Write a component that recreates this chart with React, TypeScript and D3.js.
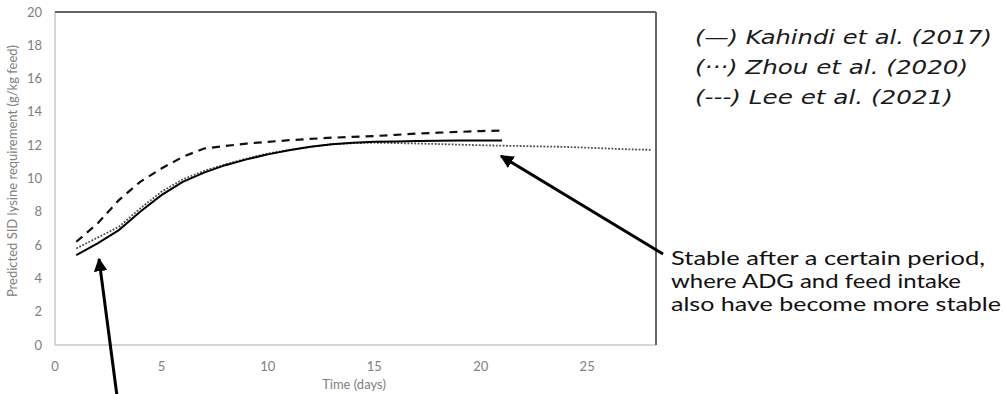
import { useEffect, useRef } from 'react';
import * as d3 from 'd3';

// days 1..21 / 1..28, values in g/kg feed
const kahindiDays = d3.range(1, 22);
const kahindiVals = [5.4, 6.1, 6.9, 8.0, 9.0, 9.8, 10.35, 10.8, 11.15, 11.45, 11.7, 11.9, 12.05, 12.15, 12.2, 12.22, 12.25, 12.27, 12.28, 12.28, 12.28];

const zhouDays = d3.range(1, 29);
const zhouVals = [5.8, 6.45, 7.1, 8.2, 9.2, 9.95, 10.45, 10.85, 11.2, 11.5, 11.72, 11.9, 12.05, 12.12, 12.15, 12.13, 12.1, 12.07, 12.03, 12.0, 11.97, 11.95, 11.92, 11.9, 11.85, 11.8, 11.75, 11.72];

const leeDays = d3.range(1, 22);
const leeVals = [6.2, 7.3, 8.7, 9.8, 10.6, 11.3, 11.8, 11.95, 12.1, 12.2, 12.3, 12.38, 12.45, 12.5, 12.55, 12.62, 12.7, 12.75, 12.8, 12.85, 12.88];

const xTicks = [0, 5, 10, 15, 20, 25];
const yTicks = [0, 2, 4, 6, 8, 10, 12, 14, 16, 18, 20];

const legendLabels = ['(\u2014) Kahindi et al. (2017)', '(\u00b7\u00b7\u00b7) Zhou et al. (2020)', '(---) Lee et al. (2021)'];
const legendWidths = [297, 273, 258];
const noteLines = ['Stable after a certain period,', 'where ADG and feed intake', 'also have become more stable'];
const noteWidths = [314, 290, 330];

const W = 1005;
const H = 394;

const App = () => {
  const ref = useRef<SVGSVGElement>(null);

  useEffect(() => {
    document.body.style.margin = '0';
    const svg = d3.select(ref.current);
    svg.selectAll('*').remove();

    const x = d3.scaleLinear().domain([0, 28]).range([55, 651]);
    const y = d3.scaleLinear().domain([0, 20]).range([345, 12]);

    const defs = svg.append('defs');
    defs
      .append('marker')
      .attr('id', 'head')
      .attr('viewBox', '0 0 10 10')
      .attr('refX', 9)
      .attr('refY', 5)
      .attr('markerWidth', 4.5)
      .attr('markerHeight', 4.5)
      .attr('markerUnits', 'strokeWidth')
      .attr('orient', 'auto')
      .append('path')
      .attr('d', 'M0,0 L10,5 L0,10 z')
      .attr('fill', '#000');

    // frame
    const fr = { l: 55, t: 12, r: 656, b: 345 };
    svg.append('line').attr('x1', fr.l).attr('x2', fr.l).attr('y1', fr.t).attr('y2', fr.b).attr('stroke', '#c8c8c8').attr('stroke-width', 1.5);
    svg.append('line').attr('x1', fr.l).attr('x2', fr.r).attr('y1', fr.b).attr('y2', fr.b).attr('stroke', '#c8c8c8').attr('stroke-width', 1.5);
    svg.append('line').attr('x1', fr.l).attr('x2', fr.r).attr('y1', fr.t).attr('y2', fr.t).attr('stroke', '#666').attr('stroke-width', 2);
    svg.append('line').attr('x1', fr.r).attr('x2', fr.r).attr('y1', fr.t).attr('y2', fr.b).attr('stroke', '#666').attr('stroke-width', 2);

    // ticks
    svg
      .append('g')
      .selectAll('text')
      .data(yTicks)
      .join('text')
      .attr('x', 42)
      .attr('y', (d) => y(d))
      .attr('dy', '0.35em')
      .attr('text-anchor', 'end')
      .attr('font-family', 'Lato, sans-serif')
      .attr('font-size', 13)
      .attr('fill', '#808080')
      .text((d) => d);

    svg
      .append('g')
      .selectAll('text')
      .data(xTicks)
      .join('text')
      .attr('x', (d) => x(d))
      .attr('y', 366)
      .attr('dy', '0.35em')
      .attr('text-anchor', 'middle')
      .attr('font-family', 'Lato, sans-serif')
      .attr('font-size', 13)
      .attr('fill', '#808080')
      .text((d) => d);

    svg
      .append('text')
      .attr('x', 354)
      .attr('y', 384)
      .attr('dy', '0.35em')
      .attr('text-anchor', 'middle')
      .attr('font-family', 'Lato, sans-serif')
      .attr('font-size', 13)
      .attr('fill', '#808080')
      .text('Time (days)');

    svg
      .append('text')
      .attr('transform', 'translate(12,171) rotate(-90)')
      .attr('dy', '0.35em')
      .attr('text-anchor', 'middle')
      .attr('font-family', 'Lato, sans-serif')
      .attr('font-size', 13)
      .attr('fill', '#808080')
      .text('Predicted SID lysine requirement (g/kg feed)');

    // series
    const line = d3
      .line<[number, number]>()
      .x((d) => x(d[0]))
      .y((d) => y(d[1]));

    svg
      .append('path')
      .attr('d', line(d3.zip(zhouDays, zhouVals) as [number, number][]))
      .attr('fill', 'none')
      .attr('stroke', '#4d4d4d')
      .attr('stroke-width', 1.8)
      .attr('stroke-dasharray', '1.8,1.6');

    svg
      .append('path')
      .attr('d', line(d3.zip(kahindiDays, kahindiVals) as [number, number][]))
      .attr('fill', 'none')
      .attr('stroke', '#000')
      .attr('stroke-width', 2);

    svg
      .append('path')
      .attr('d', line(d3.zip(leeDays, leeVals) as [number, number][]))
      .attr('fill', 'none')
      .attr('stroke', '#111')
      .attr('stroke-width', 2.2)
      .attr('stroke-dasharray', '8,6');

    // legend
    svg
      .append('g')
      .selectAll('text')
      .data(legendLabels)
      .join('text')
      .attr('x', 695)
      .attr('y', (_, i) => 37 + i * 30)
      .attr('dy', '0.35em')
      .attr('font-family', '"DejaVu Sans", sans-serif')
      .attr('font-style', 'italic')
      .attr('font-size', 20)
      .attr('fill', '#1a1a1a')
      .attr('textLength', (_, i) => legendWidths[i])
      .attr('lengthAdjust', 'spacingAndGlyphs')
      .text((d) => d);

    // annotation
    svg
      .append('g')
      .selectAll('text')
      .data(noteLines)
      .join('text')
      .attr('x', 671)
      .attr('y', (_, i) => 258 + i * 23)
      .attr('dy', '0.35em')
      .attr('font-family', 'Lato, sans-serif')
      .attr('font-size', 19)
      .attr('fill', '#111')
      .attr('textLength', (_, i) => noteWidths[i])
      .attr('lengthAdjust', 'spacingAndGlyphs')
      .text((d) => d);

    svg.append('line').attr('x1', 663).attr('y1', 254).attr('x2', 501).attr('y2', 156).attr('stroke', '#000').attr('stroke-width', 3).attr('marker-end', 'url(#head)');
    svg.append('line').attr('x1', 117).attr('y1', 396).attr('x2', 99).attr('y2', 259).attr('stroke', '#000').attr('stroke-width', 3).attr('marker-end', 'url(#head)');
  }, []);

  return (
    <svg
      ref={ref}
      width={W}
      height={H}
      style={{ position: 'absolute', left: 0, top: 0, display: 'block', background: '#fff' }}
    />
  );
};

export default App;
